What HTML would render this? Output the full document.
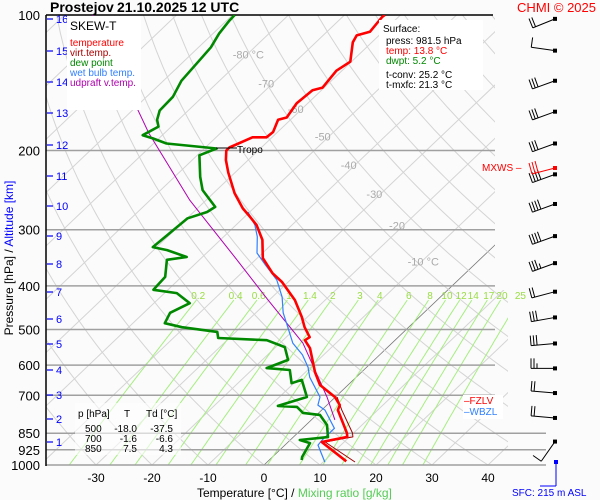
<!DOCTYPE html>
<html><head><meta charset="utf-8"><style>
html,body{margin:0;padding:0;background:#fbfbfb;}
svg{display:block;font-family:"Liberation Sans",sans-serif;}
</style></head><body>
<svg id="c" width="600" height="500" viewBox="0 0 600 500">
<defs><clipPath id="clip"><polygon points="46,15 495,15 495,290 508,290 508,465 46,465"/></clipPath></defs>
<rect width="600" height="500" fill="#fbfbfb"/>
<g id="grid" clip-path="url(#clip)"></g>
<g id="hlines"></g>
<g id="labels"></g>
<g id="series" clip-path="url(#clip)"></g>
<g id="winds"></g>
</svg>
<script>
const isobars=[200,300,400,500,600,700,850,925,1000];
const pTicks=[100,200,300,400,500,600,700,850,925,1000];
const kmTicks=[16,15,14,13,12,11,10,9,8,7,6,5,4,3,2,1];
const kmY=[19,51,82,113,145,176,206,236,264,292,319,344,370,395,419,442];
const tTicks=[-30,-20,-10,0,10,20,30,40];
const isoLabels=[-80,-70,-60,-50,-40,-30,-20,-10];
const mixRatios=[0.2,0.4,0.6,1,1.4,2,3,4,6,8,10,12,14,17,20,25];
const tempP=[981,889,866,849,755,736,706,664,622,550,528,520,494,469,430,392,375,347,316,293,281,269,249,224,210,200,197,187,187,182,171,169,157,147,145,133,127,115,111,109,101,100];
const tempT=[14,6.0,9.6,8.8,2.9,2.3,-0.1,-5.0,-8.3,-13.7,-16.1,-15.8,-18.6,-21.0,-25.4,-31.1,-34.4,-39.0,-42.5,-46.3,-49.0,-51.9,-56.2,-61.2,-64.0,-65.7,-65.7,-63.5,-61.0,-60.8,-62.2,-61.1,-62.0,-61.6,-60.3,-61.0,-60.2,-63.4,-64.0,-62.3,-62.9,-62.8];
const virtP=[985,889,866,849,755,706];
const virtT=[15.7,6.6,10.6,9.8,3.6,0.3];
const dewP=[975,960,894,880,867,815,774,766,743,739,706,647,658,615,609,584,547,528,522,506,494,484,459,437,415,408,382,350,345,333,328,305,283,274,267,245,229,205,198,193,188,185,177,171,163,152,140,126,118,110,103,100];
const dewT=[5.8,5.3,4.1,1.7,6.2,3.75,0.6,-2.8,-5.0,-8.6,-5.1,-9.2,-10.4,-13.2,-17.7,-15.4,-18.4,-22.9,-32.0,-33.3,-40.5,-44.3,-45.3,-43.6,-47.8,-52.6,-52.9,-55.8,-52.8,-57.6,-60.7,-60.3,-59.9,-57.6,-57.1,-62.5,-65.4,-69.6,-67.8,-77.7,-81.1,-83.5,-82.3,-83.8,-85.1,-85.3,-86.8,-87.4,-87.8,-88.9,-89.5,-89.6];
const wbP=[985,903,880,829,755,736,706,638,606,569,536,494,459,423,388,359,338,311,293,274];
const wbT=[10.3,5.9,5.7,5.7,0.6,-1.6,-2.75,-8.3,-10.5,-13.8,-17.7,-21.6,-25.1,-28.3,-32.4,-37.3,-41.0,-44.0,-46.6,-50.3];
const updP=[794,706,536,430,350,281,258,183,100];
const updT=[4.2,-1.5,-15.9,-30.2,-43.3,-57.4,-62.9,-82.8,-114.9];
const windP=[102,120,140,164,193,226,263,310,356,412,470,537,610,692,786,887];
const windDir=[248,278,250,250,250,250,250,250,250,255,260,265,270,275,275,215];
const windSpd=[20,10,30,30,30,40,40,40,35,20,30,30,25,20,20,10];

const NS='http://www.w3.org/2000/svg';
function Y(p){return 15+450*Math.log10(p/100);}
function X(t,p){return 264+5.6*t+(465-Y(p))*1.05;}
function el(tag,attrs,parent,text){const e=document.createElementNS(NS,tag);for(const k in attrs)e.setAttribute(k,attrs[k]);if(text!==undefined)e.textContent=text;parent.appendChild(e);return e;}
const grid=document.getElementById('grid'),hl=document.getElementById('hlines'),lab=document.getElementById('labels'),ser=document.getElementById('series'),wg=document.getElementById('winds');

for(let t=-150;t<=50;t+=10){
  const l=el('line',{x1:X(t,1000),y1:465,x2:X(t,100),y2:15,stroke:t===0?'#777':'#d4d4d4','stroke-width':t===0?0.8:1},grid);
  
  
}
for(let th=-30;th<=200;th+=10){
  let pts=[];
  for(let p=1000;p>=100;p-=10){const T=(th+273.15)*Math.pow(p/1000,0.286)-273.15;pts.push(X(T,p).toFixed(1)+','+Y(p).toFixed(1));}
  const l=el('polyline',{points:pts.join(' '),fill:'none',stroke:'#d4d4d4','stroke-width':1},grid);
  
  
}
function tdw(w,p){const e=w*p/(622+w);const a=Math.log(e/6.112);return 243.5*a/(17.67-a);}
mixRatios.forEach(w=>{
  let pts=[];
  for(let p=1000;p>=430;p-=10){pts.push(X(tdw(w,p),p).toFixed(1)+','+Y(p).toFixed(1));}
  const l=el('polyline',{points:pts.join(' '),fill:'none',stroke:'#a6ee80','stroke-width':1},grid);
  
  
  const t=el('text',{x:X(tdw(w,425),425),y:299,'font-size':10,fill:'#99dd44','text-anchor':'middle'},lab,String(w));
  
  
});
isobars.forEach(p=>{
  const l=el('line',{x1:46,y1:Y(p),x2:p>=850?546:495,y2:Y(p),stroke:'#a0a0a0','stroke-width':1.5},hl);
  
  
});
el('line',{x1:46,y1:15,x2:493,y2:15,stroke:'#000','stroke-width':1.5},hl);
el('line',{x1:46,y1:15,x2:46,y2:466,stroke:'#000','stroke-width':1.5},hl);
pTicks.forEach(p=>{
  const t=el('text',{x:40,y:Y(p)+5,'font-size':13,'text-anchor':'end',fill:'#000'},lab,String(p));
  
  
});
kmTicks.forEach((k,i)=>{
  el('line',{x1:47,y1:kmY[i],x2:53,y2:kmY[i],stroke:'#00f','stroke-width':1.2},lab);
  const t=el('text',{x:56,y:kmY[i]+4,'font-size':11,fill:'#00f'},lab,String(k));
  
  
});
tTicks.forEach(v=>{
  const t=el('text',{x:264+5.6*v,y:482,'font-size':12,'text-anchor':'middle',fill:'#000'},lab,String(v));
  
  
});
const isoLabP=[125,145,165,190,220,255,300,360];
isoLabels.forEach((v,i)=>{
  const p=isoLabP[i];
  const t=el('text',{x:X(v,p)-10,y:Y(p),'font-size':11,fill:'#aaa'},lab,(v===-80||v===-10)?v+' °C':String(v));
  
  
});

function line(P,T,color,w,name){
  const pts=P.map((p,i)=>X(T[i],p).toFixed(1)+','+Y(p).toFixed(1)).join(' ');
  const l=el('polyline',{points:pts,fill:'none',stroke:color,'stroke-width':w,'stroke-linejoin':'round'},ser);
  
  
}
line(updP,updT,'#b000b0',1,'updraft-line');
line(virtP,virtT,'#a00000',1,'virtual-temperature-line');
line(wbP,wbT,'#3080ff',1.2,'wet-bulb-line');
line(dewP,dewT,'#008800',2.6,'dew-point-line');
line(tempP,tempT,'#ff0000',2.6,'temperature-line');

windP.forEach((p,i)=>{
  const y=Y(p),x=555,L=24,a=windDir[i]*Math.PI/180;
  const dx=Math.sin(a),dy=-Math.cos(a);
  const g=el('g',{},wg);
  
  
  const bx=x+dx*L,by=y+dy*L;
  el('line',{x1:x,y1:y,x2:bx,y2:by,stroke:'#000','stroke-width':1},g);
  el('rect',{x:x-2,y:y-2,width:4,height:4,fill:'#000'},g);
  const px=-dy,py=dx;
  let s=windSpd[i],k=0;
  while(s>=5){
    const len=s>=10?10:5;
    const cx=bx-dx*k*3,cy=by-dy*k*3;
    el('line',{x1:cx,y1:cy,x2:cx+px*len,y2:cy+py*len,stroke:'#000','stroke-width':1},g);
    s-=s>=10?10:5;k++;
  }
});
</script>
<svg width="600" height="500" style="position:absolute;left:0;top:0" viewBox="0 0 600 500" font-family="Liberation Sans, sans-serif">
<text x="50" y="12" font-size="14" font-weight="bold">Prostejov</text>
<text x="117" y="12" font-size="14" font-weight="bold">21.10.2025 12 UTC</text>
<text x="596" y="12" font-size="13" fill="#f00" text-anchor="end">CHMI © 2025</text>
<g>
<rect x="67" y="16" width="74" height="94" fill="#fff"/>
<text x="70" y="30" font-size="12">SKEW-T</text>
<text x="70" y="46" font-size="10" fill="#f00">temperature</text>
<text x="70" y="56" font-size="10" fill="#a00">virt.temp.</text>
<text x="70" y="66" font-size="10" fill="#080">dew point</text>
<text x="70" y="76" font-size="10" fill="#3080ff">wet bulb temp.</text>
<text x="70" y="86" font-size="10" fill="#b000b0">udpraft v.temp.</text>
</g>
<g>
<rect x="379" y="20" width="104" height="70" fill="#fff"/>
<text x="383" y="32" font-size="10">Surface:</text>
<text x="386" y="44" font-size="10">press: 981.5 hPa</text>
<text x="386" y="54" font-size="10" fill="#f00">temp: 13.8 °C</text>
<text x="386" y="64" font-size="10" fill="#080">dwpt: 5.2 °C</text>
<text x="386" y="78" font-size="10">t-conv: 25.2 °C</text>
<text x="386" y="88" font-size="10">t-mxfc: 21.3 °C</text>
</g>
<g font-size="10">
<rect x="75" y="403" width="106" height="52" fill="#fff" opacity="0.6"/>
<text x="78" y="417">p [hPa]</text><text x="127" y="417" text-anchor="middle">T</text><text x="146" y="417">Td [°C]</text>
<text x="85" y="432">500</text><text x="137" y="432" text-anchor="end">-18.0</text><text x="173" y="432" text-anchor="end">-37.5</text>
<text x="85" y="442">700</text><text x="137" y="442" text-anchor="end">-1.6</text><text x="173" y="442" text-anchor="end">-6.6</text>
<text x="85" y="452">850</text><text x="137" y="452" text-anchor="end">7.5</text><text x="173" y="452" text-anchor="end">4.3</text>
</g>
<text x="237" y="153" font-size="10">Tropo</text>
<line x1="216" y1="148" x2="237" y2="148" stroke="#000"/>
<rect x="463" y="395" width="40" height="24" fill="#fff"/>
<text x="464" y="404" font-size="10" fill="#f00">‒FZLV</text>
<text x="464" y="415" font-size="10" fill="#3080ff">‒WBZL</text>
<text x="482" y="171" font-size="10" fill="#f00">MXWS –</text>
<g>
<line x1="555" y1="168" x2="532" y2="174" stroke="#f00"/><rect x="553" y="166" width="4" height="4" fill="#f00"/>
<line x1="532" y1="174" x2="529" y2="163" stroke="#f00"/><line x1="535" y1="173" x2="532" y2="162" stroke="#f00"/><line x1="538" y1="172" x2="535" y2="161" stroke="#f00"/>
</g>
<g>
<line x1="556" y1="462" x2="556" y2="486" stroke="#00f"/><line x1="540" y1="486" x2="556" y2="486" stroke="#00f"/><rect x="554" y="460" width="4" height="4" fill="#00f"/>
</g>
<text x="512" y="496" font-size="10" fill="#00f">SFC: 215 m ASL</text>
<text x="197" y="497" font-size="12">Temperature [°C]  /  <tspan fill="#5c5">Mixing ratio [g/kg]</tspan></text>
<text transform="translate(13,258) rotate(-90)" font-size="12" text-anchor="middle">Pressure [hPa]  /  <tspan fill="#00f">Altitude [km]</tspan></text>
</svg>
</body></html>
